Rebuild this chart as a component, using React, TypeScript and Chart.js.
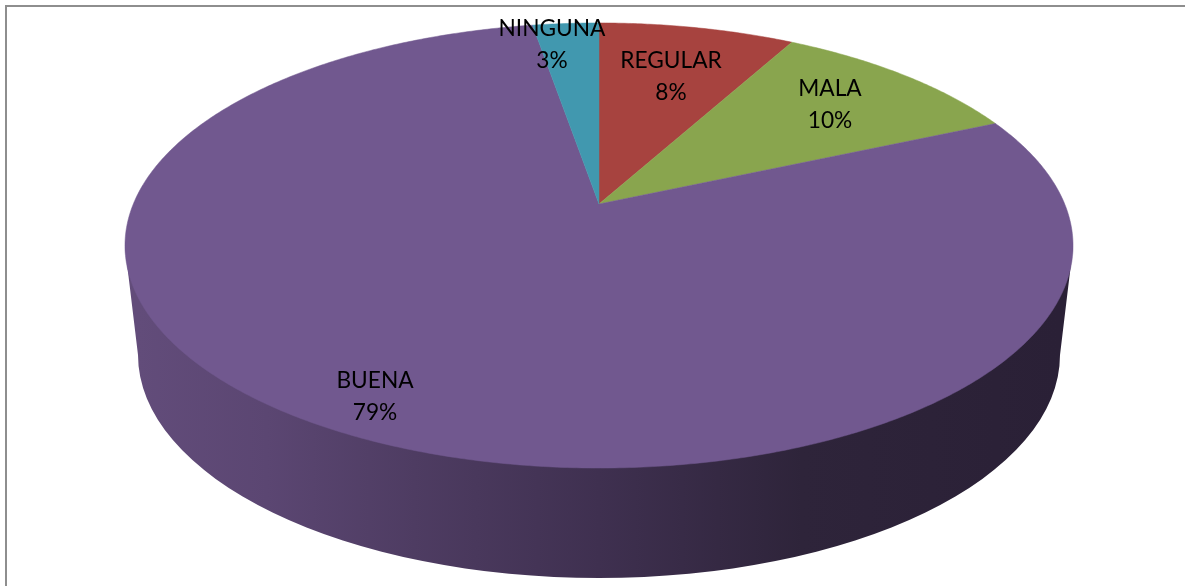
import React, { useEffect, useRef } from "react";
import { Chart, registerables } from "chart.js";

Chart.register(...registerables);

const categories = ["REGULAR", "MALA", "BUENA", "NINGUNA"];
const shares = [8, 10.4, 78.9, 2.7];
const sliceColors = ["#A7433F", "#89A54E", "#71588F", "#4198AF"];
const labelCenters = [
  [671, 61],
  [830, 89],
  [375, 381],
  [552, 29],
];

// Perspective projection of the unit disc onto the canvas
const CX = 599;
const APEX_Y = 204;
const K = 0.1865;
const A = 465.7;
const B = 214.8;

const project = (theta: number) => {
  const x = Math.sin(theta);
  const y = Math.cos(theta);
  const w = 1 + K * y;
  return [CX + (A * x) / w, APEX_Y - (B * y) / w];
};

const pie3d = {
  id: "pie3d",
  beforeDatasetDraw(chart: any) {
    const ctx: CanvasRenderingContext2D = chart.ctx;
    const meta = chart.getDatasetMeta(0);
    ctx.save();

    // frame
    ctx.strokeStyle = "#8E8E8E";
    ctx.lineWidth = 2;
    ctx.beginPath();
    ctx.moveTo(6, 586);
    ctx.lineTo(6, 6);
    ctx.lineTo(1185, 6);
    ctx.stroke();

    // side wall
    const grad = ctx.createLinearGradient(138, 0, 1060, 0);
    grad.addColorStop(0, "#624C7A");
    grad.addColorStop(0.14, "#5B4672");
    grad.addColorStop(0.3, "#4E3C62");
    grad.addColorStop(0.5, "#3F3050");
    grad.addColorStop(0.72, "#2E243A");
    grad.addColorStop(1, "#2A2036");
    ctx.fillStyle = grad;
    ctx.beginPath();
    ctx.moveTo(125, 247);
    ctx.lineTo(138, 355);
    ctx.ellipse(CX, 355, 461, 223, 0, Math.PI, 0, true);
    ctx.lineTo(1073, 247);
    ctx.closePath();
    ctx.fill();

    // top face, driven by the arc elements' own angles
    meta.data.forEach((arc: any) => {
      const start = arc.startAngle + Math.PI / 2;
      const end = arc.endAngle + Math.PI / 2;
      const steps = Math.max(4, Math.ceil((end - start) * 120));
      ctx.beginPath();
      ctx.moveTo(CX, APEX_Y);
      for (let s = 0; s <= steps; s++) {
        const [px, py] = project(start + ((end - start) * s) / steps);
        ctx.lineTo(px, py);
      }
      ctx.closePath();
      ctx.fillStyle = arc.options.backgroundColor;
      ctx.strokeStyle = arc.options.backgroundColor;
      ctx.lineWidth = 0.5;
      ctx.fill();
      ctx.stroke();
    });

    // data labels
    const total = shares.reduce((a, b) => a + b, 0);
    ctx.fillStyle = "#000000";
    ctx.font = '22.7px Lato, "Open Sans", sans-serif';
    ctx.textAlign = "center";
    ctx.textBaseline = "middle";
    categories.forEach((name, i) => {
      const [lx, ly] = labelCenters[i];
      ctx.fillText(name, lx, ly);
      ctx.fillText(`${Math.round((shares[i] / total) * 100)}%`, lx, ly + 32);
    });

    ctx.restore();
    return false;
  },
};

export default function App() {
  const ref = useRef<HTMLCanvasElement>(null);
  useEffect(() => {
    const chart = new Chart(ref.current as HTMLCanvasElement, {
      type: "pie",
      data: {
        labels: categories,
        datasets: [{ data: shares, backgroundColor: sliceColors, borderWidth: 0 }],
      },
      options: {
        animation: false,
        responsive: false,
        plugins: { legend: { display: false }, tooltip: { enabled: false } },
      },
      plugins: [pie3d],
    });
    return () => chart.destroy();
  }, []);
  return (
    <div style={{ position: "absolute", left: 0, top: 0, width: 1185, height: 586, background: "#fff" }}>
      <canvas ref={ref} width={1185} height={586} style={{ display: "block" }} />
    </div>
  );
}
